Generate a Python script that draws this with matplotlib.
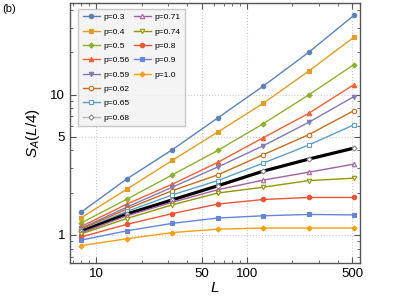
import numpy as np
import matplotlib
matplotlib.use('Agg')
import matplotlib.pyplot as plt
from matplotlib.lines import Line2D
from matplotlib.ticker import FixedLocator, NullFormatter

plt.rcParams['font.family'] = ['Liberation Sans', 'DejaVu Sans']
plt.rcParams['mathtext.fontset'] = 'custom'
plt.rcParams['mathtext.it'] = 'Liberation Sans:italic'
plt.rcParams['mathtext.rm'] = 'Liberation Sans'

# system sizes and entanglement entropy S_A(L/4) for each p
L = [8, 16, 32, 64, 128, 256, 512]
p_labels = ['p=0.3', 'p=0.4', 'p=0.5', 'p=0.56', 'p=0.59', 'p=0.62', 'p=0.65',
            'p=0.68', 'p=0.71', 'p=0.74', 'p=0.8', 'p=0.9', 'p=1.0']
s_03 = [1.46, 2.51, 4.05, 6.82, 11.5, 20.0, 36.8]
s_04 = [1.33, 2.12, 3.40, 5.41, 8.67, 14.7, 25.7]
s_05 = [1.22, 1.80, 2.68, 4.00, 6.20, 9.95, 16.4]
s_056 = [1.15, 1.66, 2.30, 3.29, 4.93, 7.35, 11.8]
s_059 = [1.12, 1.58, 2.19, 3.05, 4.32, 6.34, 9.7]
s_062 = [1.10, 1.53, 2.07, 2.68, 3.73, 5.18, 7.7]
s_065 = [1.08, 1.47, 1.93, 2.44, 3.25, 4.37, 6.1]
s_068 = [1.06, 1.41, 1.78, 2.24, 2.85, 3.47, 4.16]
s_071 = [1.04, 1.37, 1.71, 2.10, 2.46, 2.80, 3.2]
s_074 = [1.02, 1.31, 1.64, 1.99, 2.19, 2.44, 2.54]
s_08 = [0.97, 1.19, 1.42, 1.66, 1.79, 1.85, 1.85]
s_09 = [0.92, 1.07, 1.21, 1.32, 1.37, 1.40, 1.39]
s_10 = [0.84, 0.94, 1.04, 1.10, 1.12, 1.12, 1.12]
series = [s_03, s_04, s_05, s_056, s_059, s_062, s_065,
          s_068, s_071, s_074, s_08, s_09, s_10]

colors = ['#5E81B5', '#E19C24', '#8FB032', '#EB6235', '#8778B3', '#C56E1A', '#5D9EC7',
          'black', '#A5609D', '#929600', '#E95536', '#6685D9', '#F89F13']
markers = ['o', 's', 'D', '^', 'v', 'o', 's', 'D', '^', 'v', 'o', 's', 'D']
filled = [True, True, True, True, True, False, False, False, False, False, True, True, True]

fig = plt.figure(figsize=(3.99, 2.99), dpi=100)
ax = fig.add_axes([0.175, 0.12, 0.727, 0.87])

handles = []
for i, s in enumerate(series):
    c = colors[i]
    lw = 2.3 if c == 'black' else 1.0
    mec = '#888888' if c == 'black' else c
    ms = 2.6 if markers[i] == 'D' else 3.2
    ax.plot(L, s, color=c, lw=lw, marker=markers[i], ms=ms,
            mfc=(c if filled[i] else 'white'), mec=mec, mew=0.8)
    lc = '#BBBBBB' if c == 'black' else c
    handles.append(Line2D([], [], color=lc, lw=1.0, marker=markers[i], ms=ms,
                          mfc=(lc if filled[i] else 'white'), mec=('#888888' if c == 'black' else lc),
                          mew=0.8, label=p_labels[i]))

# pad to 16 entries so the legend columns split 8 / 5
blank = [Line2D([], [], linestyle='none', label='') for _ in range(3)]
leg = ax.legend(handles=handles + blank, ncol=2, loc='upper left', fontsize=6,
                frameon=True, fancybox=False, edgecolor='#BBBBBB', facecolor='#F2F2F2',
                handlelength=2.0, handletextpad=0.4, columnspacing=0.6, labelspacing=0.78,
                borderpad=0.55, bbox_to_anchor=(0.015, 0.993))
leg.get_frame().set_linewidth(1.0)

ax.set_xscale('log')
ax.set_yscale('log')
ax.set_xlim(6.7, 560)
ax.set_ylim(0.63, 45)

ax.xaxis.set_major_locator(FixedLocator([10, 50, 100, 500]))
ax.xaxis.set_minor_locator(FixedLocator([7, 8, 9, 20, 30, 40, 60, 70, 80, 90, 200, 300, 400]))
ax.yaxis.set_major_locator(FixedLocator([1, 5, 10]))
ax.yaxis.set_minor_locator(FixedLocator([0.7, 0.8, 0.9, 2, 3, 4, 6, 7, 8, 9, 20, 30, 40]))
ax.set_xticklabels(['10', '50', '100', '500'])
ax.set_yticklabels(['1', '5', '10'])
ax.xaxis.set_minor_formatter(NullFormatter())
ax.yaxis.set_minor_formatter(NullFormatter())
ax.tick_params(which='both', direction='in', top=True, right=True, color='#555555',
               labelsize=9.5)
ax.tick_params(which='major', length=4, width=0.8)
ax.tick_params(which='minor', length=2, width=0.6)
ax.grid(True, which='major', linestyle=':', color='#CCCCCC', lw=0.8)
for sp in ax.spines.values():
    sp.set_color('#555555')
    sp.set_linewidth(1.0)

ax.set_xlabel('$L$', fontsize=11, labelpad=1)
ax.set_ylabel('$S_A(L/4)$', fontsize=11, labelpad=6)
fig.text(0.005, 0.985, '(b)', fontsize=8, va='top')

fig.savefig('out.png', dpi=100)
